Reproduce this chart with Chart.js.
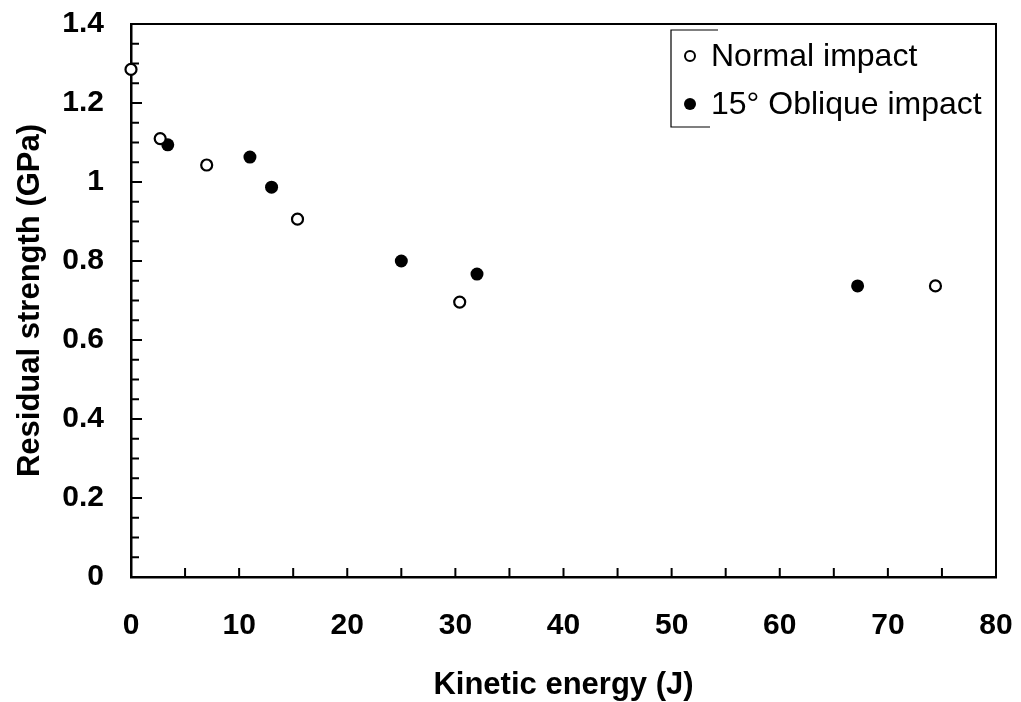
<!DOCTYPE html>
<html>
<head>
<meta charset="utf-8">
<script src="https://cdn.jsdelivr.net/npm/chart.js@4"></script>
<style>
  html, body { margin: 0; padding: 0; background: #fff; }
  #wrap { width: 1021px; height: 702px; }
</style>
</head>
<body>
<div id="wrap"><canvas id="grafico"></canvas></div>
<script>
// Datos
const normalX = [0, 2.7, 7.0, 15.4, 30.4, 74.4];
const normalY = [1.285, 1.11, 1.043, 0.906, 0.696, 0.737];
const obliqueX = [3.4, 11.0, 13.0, 25.0, 32.0, 67.2];
const obliqueY = [1.094, 1.063, 0.987, 0.80, 0.767, 0.737];
const seriesNames = ['Normal impact', '15° Oblique impact'];
const xTickLabels = ['0', '10', '20', '30', '40', '50', '60', '70', '80'];
const yTickLabels = ['0', '0.2', '0.4', '0.6', '0.8', '1', '1.2', '1.4'];

const toPoints = (xs, ys) => xs.map((x, i) => ({ x: x, y: ys[i] }));
const fuente = 'Liberation Sans, Arial, Helvetica, sans-serif';

// Marcas interiores, bordes superior/derecho y leyenda
const marcoPlugin = {
  id: 'marco',
  afterDraw(chart) {
    const ctx = chart.ctx;
    const a = chart.chartArea;
    const sx = chart.scales.x, sy = chart.scales.y;
    ctx.save();
    ctx.strokeStyle = '#000';
    ctx.lineWidth = 2;
    ctx.beginPath();
    ctx.moveTo(a.left, a.top); ctx.lineTo(a.right, a.top);
    ctx.lineTo(a.right, a.bottom);
    ctx.stroke();

    ctx.lineWidth = 2;
    ctx.beginPath();
    for (let v = 5; v < 80; v += 5) {
      const px = sx.getPixelForValue(v);
      ctx.moveTo(px, a.bottom); ctx.lineTo(px, a.bottom - 9);
    }
    for (let k = 1; k < 28; k++) {
      const py = sy.getPixelForValue(k * 0.05);
      const len = (k % 4 === 0) ? 11 : 8;
      ctx.moveTo(a.left, py); ctx.lineTo(a.left + len, py);
    }
    ctx.stroke();

    // leyenda
    const lx = 671, ly = 30, lb = 127;
    ctx.lineWidth = 1.2;
    ctx.beginPath();
    ctx.moveTo(718, ly); ctx.lineTo(lx, ly); ctx.lineTo(lx, lb); ctx.lineTo(710, lb);
    ctx.stroke();

    ctx.lineWidth = 2;
    ctx.beginPath();
    ctx.arc(690, 56, 5, 0, Math.PI * 2);
    ctx.stroke();
    ctx.fillStyle = '#000';
    ctx.beginPath();
    ctx.arc(690, 104, 6, 0, Math.PI * 2);
    ctx.fill();

    ctx.font = '32px ' + fuente;
    ctx.textBaseline = 'middle';
    ctx.textAlign = 'left';
    ctx.fillText(seriesNames[0], 711, 57);
    ctx.fillText(seriesNames[1], 711, 105);
    ctx.restore();
  }
};

const ctx = document.getElementById('grafico').getContext('2d');

const chart = new Chart(ctx, {
  type: 'scatter',
  data: {
    datasets: [
      {
        label: seriesNames[0],
        data: toPoints(normalX, normalY),
        pointStyle: 'circle',
        pointRadius: 5.5,
        pointBorderWidth: 2.2,
        borderColor: '#000',
        backgroundColor: '#fff',
        clip: false
      },
      {
        label: seriesNames[1],
        data: toPoints(obliqueX, obliqueY),
        pointStyle: 'circle',
        pointRadius: 6.5,
        pointBorderWidth: 0,
        borderColor: '#000',
        backgroundColor: '#000',
        clip: false
      }
    ]
  },
  options: {
    responsive: true,
    maintainAspectRatio: false,
    animation: false,
    events: [],
    layout: { padding: { top: 24, right: 25, left: 0, bottom: 0 } },
    plugins: {
      legend: { display: false },
      tooltip: { enabled: false }
    },
    scales: {
      x: {
        type: 'linear',
        min: 0,
        max: 80,
        afterFit: (s) => {
          s.height = 125;
          s.paddingLeft = 0; s.paddingRight = 0;
        },
        grid: { display: false, drawTicks: false },
        border: { display: true, color: '#000', width: 2.5 },
        ticks: {
          stepSize: 10,
          padding: 31,
          color: '#000',
          font: { family: fuente, size: 30, weight: 'bold' },
          callback: (v, i) => xTickLabels[i]
        },
        title: {
          display: true,
          text: 'Kinetic energy (J)',
          color: '#000',
          font: { family: fuente, size: 31, weight: 'bold' },
          padding: { top: 0, bottom: -2 }
        }
      },
      y: {
        type: 'linear',
        min: 0,
        max: 1.4,
        afterFit: (s) => {
          s.width = 131;
          s.paddingTop = 0; s.paddingBottom = 0;
        },
        grid: { display: false, drawTicks: false },
        border: { display: true, color: '#000', width: 2.5 },
        ticks: {
          stepSize: 0.2,
          padding: 27,
          color: '#000',
          font: { family: fuente, size: 30, weight: 'bold' },
          callback: (v, i) => yTickLabels[i]
        },
        title: {
          display: true,
          text: 'Residual strength (GPa)',
          color: '#000',
          font: { family: fuente, size: 31, weight: 'bold' },
          padding: { top: 12, bottom: 0 }
        }
      }
    }
  },
  plugins: [marcoPlugin]
});
</script>
</body>
</html>
